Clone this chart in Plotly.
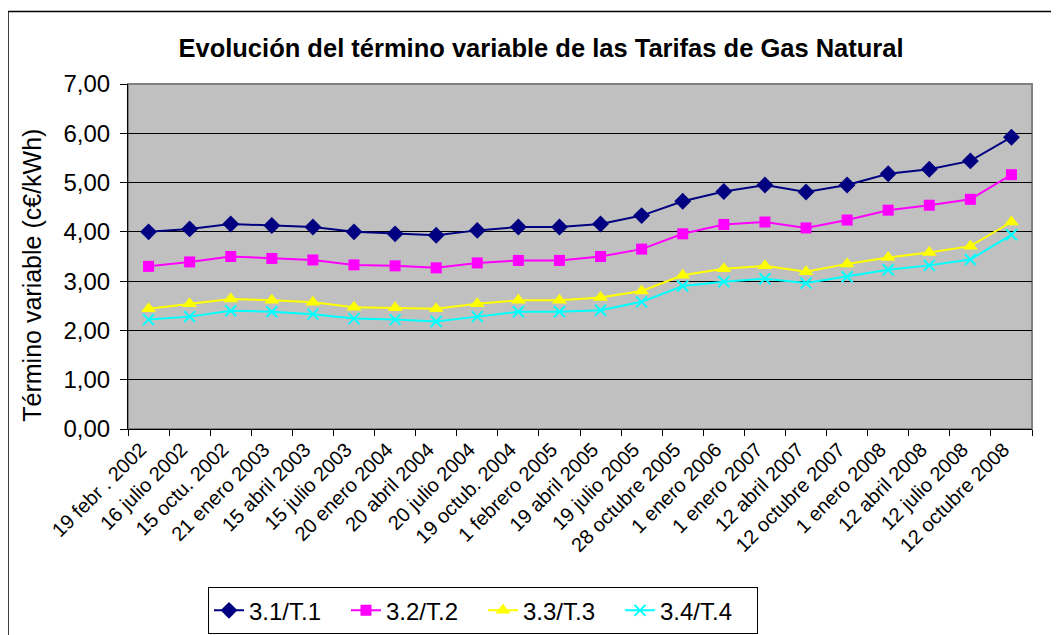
import plotly.graph_objects as go

categories = ["19 febr . 2002", "16 julio 2002", "15 octu. 2002", "21 enero 2003", "15 abril 2003",
              "15 julio 2003", "20 enero 2004", "20 abril 2004", "20 julio 2004", "19 octub. 2004",
              "1 febrero 2005", "19 abril 2005", "19 julio 2005", "28 octubre 2005", "1 enero 2006",
              "1 enero 2007", "12 abril 2007", "12 octubre 2007", "1 enero 2008", "12 abril 2008",
              "12 julio 2008", "12 octubre 2008"]

t1 = [4.00, 4.06, 4.16, 4.13, 4.10, 4.00, 3.96, 3.93, 4.03, 4.10, 4.10, 4.16, 4.33, 4.62, 4.82,
      4.95, 4.81, 4.95, 5.18, 5.27, 5.44, 5.92]
t2 = [3.30, 3.39, 3.50, 3.46, 3.43, 3.33, 3.31, 3.27, 3.37, 3.42, 3.42, 3.50, 3.65, 3.96, 4.15,
      4.20, 4.08, 4.24, 4.44, 4.54, 4.66, 5.16]
t3 = [2.44, 2.54, 2.64, 2.61, 2.57, 2.47, 2.46, 2.44, 2.54, 2.61, 2.61, 2.67, 2.80, 3.12, 3.25,
      3.31, 3.19, 3.35, 3.48, 3.58, 3.71, 4.20]
t4 = [2.22, 2.28, 2.40, 2.38, 2.33, 2.24, 2.22, 2.18, 2.28, 2.38, 2.38, 2.41, 2.58, 2.90, 2.99,
      3.05, 2.96, 3.09, 3.23, 3.32, 3.44, 3.94]

series_names = ["3.1/T.1", "3.2/T.2", "3.3/T.3", "3.4/T.4"]
FONT = "Liberation Sans, Arial, sans-serif"

fig = go.Figure()
styles = [
    (t1, "#000080", dict(symbol="diamond", size=13, color="#000080")),
    (t2, "#FF00FF", dict(symbol="square", size=11, color="#FF00FF")),
    (t3, "#FFFF00", dict(symbol="triangle-up", size=13, color="#FFFF00")),
    (t4, "#00FFFF", dict(symbol="x-thin", size=11, color="#00FFFF", line=dict(color="#00FFFF", width=2))),
]
for name, (vals, col, mk) in zip(series_names, styles):
    fig.add_trace(go.Scatter(x=categories, y=vals, name=name, mode="lines+markers",
                             line=dict(color=col, width=2), marker=mk))

# page has an 8px body margin: figure coordinates = screen coordinates - 8
OFF = 8
W, H = 1051, 627
L, T = 128 - OFF, 84 - OFF
R = W - (1032 - OFF)
B = H - (429.5 - OFF)
pw, ph = W - L - R, H - T - B

def px(x):
    return (x - OFF - L) / pw

def py(y):
    return (H - B - (y - OFF)) / ph

fig.update_layout(
    width=W, height=H,
    margin=dict(l=L, r=R, t=T, b=B, autoexpand=False),
    paper_bgcolor="white", plot_bgcolor="#C0C0C0",
    separators=",.",
    font=dict(family=FONT, color="black"),
    title=dict(text="<b>Evolución del término variable de las Tarifas de Gas Natural</b>",
               x=(541 - OFF) / W, xanchor="center", y=1 - (48 - OFF) / H, yanchor="middle",
               font=dict(size=25.5, family=FONT, color="black")),
    showlegend=True,
    legend=dict(orientation="h", x=px(483), xanchor="center", y=py(588), yanchor="top",
                bordercolor="black", borderwidth=1, bgcolor="white",
                font=dict(size=24, family=FONT), itemwidth=30, traceorder="normal",
                entrywidth=92, entrywidthmode="pixels"),
    xaxis=dict(type="category", tickangle=-45, tickfont=dict(size=20, family=FONT),
               showgrid=False, showline=True, linecolor="black", linewidth=1,
               ticks="outside", ticklen=6, tickcolor="black", tickson="boundaries",
               ticklabelshift=-8,
               range=[-0.5, len(categories) - 0.5], zeroline=False),
    yaxis=dict(range=[0, 7], dtick=1, tickformat=".2f", tickfont=dict(size=24, family=FONT),
               showgrid=True, gridcolor="black", gridwidth=1,
               showline=True, linecolor="black", linewidth=1,
               ticks="outside", ticklen=7, tickcolor="black", zeroline=False,
               ticklabelstandoff=5),
    annotations=[
        dict(text="Término variable (c€/kWh)", xref="paper", yref="paper",
             x=px(32), y=py(276), xanchor="center", yanchor="middle", textangle=-90,
             showarrow=False, font=dict(size=25, family=FONT, color="black")),
    ],
    shapes=[
        dict(type="rect", xref="paper", yref="paper", x0=0, x1=1, y0=0, y1=1,
             line=dict(color="#808080", width=2), layer="below"),
        dict(type="rect", xref="paper", yref="paper", x0=px(8), x1=px(1058), y0=py(645), y1=py(11.5),
             line=dict(color="black", width=1.5), layer="below"),
    ],
)

fig.write_html("out.html")
